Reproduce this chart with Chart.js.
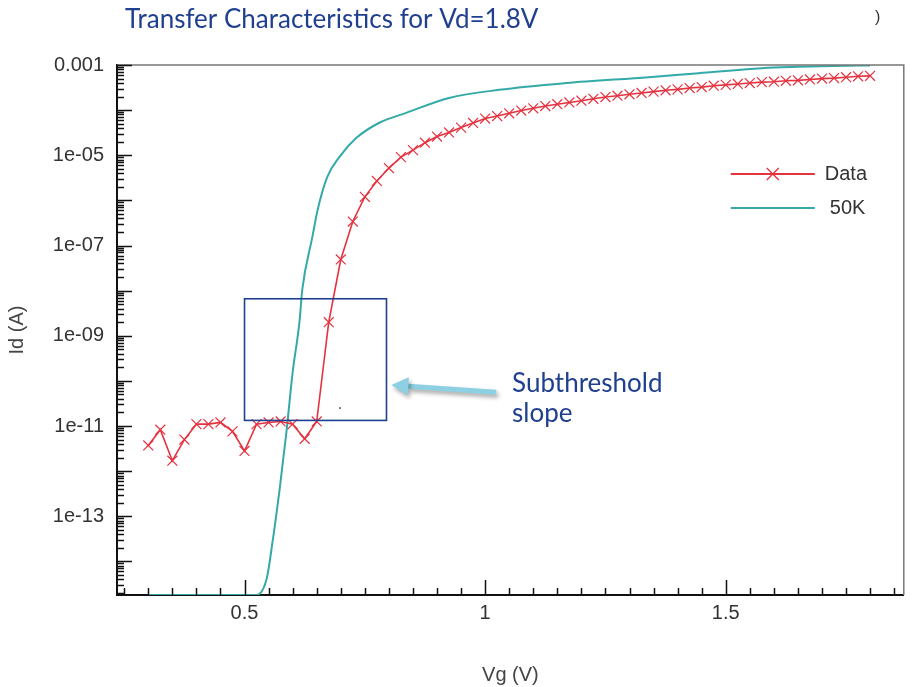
<!DOCTYPE html>
<html>
<head>
<meta charset="utf-8">
<script src="https://cdn.jsdelivr.net/npm/chart.js@4.4.1/dist/chart.umd.min.js"></script>
<style>
  html, body { margin: 0; padding: 0; background: #fff; }
  #wrap { width: 912px; height: 687px; }
</style>
</head>
<body>
<div id="wrap"><canvas id="grafica" width="912" height="687"></canvas></div>
<script>
// Datos medidos (Vg en V, Id en A)
var vgData = [0.3, 0.325, 0.35, 0.375, 0.4, 0.425, 0.45, 0.475, 0.5, 0.525, 0.55, 0.575, 0.6, 0.625, 0.65,
              0.675, 0.7, 0.725, 0.75, 0.775, 0.8, 0.825, 0.85, 0.875, 0.9, 0.925, 0.95, 0.975, 1.0,
              1.025, 1.05, 1.075, 1.1, 1.125, 1.15, 1.175, 1.2, 1.225, 1.25, 1.275, 1.3, 1.325, 1.35, 1.375, 1.4,
              1.425, 1.45, 1.475, 1.5, 1.525, 1.55, 1.575, 1.6, 1.625, 1.65, 1.675, 1.7, 1.725, 1.75, 1.775, 1.8];
var idData = [3.7e-12, 8.3e-12, 1.7e-12, 5.0e-12, 1.1e-11, 1.1e-11, 1.2e-11, 7.6e-12, 2.8e-12, 1.1e-11, 1.2e-11, 1.26e-11, 1.1e-11, 5.2e-12, 1.26e-11,
              2.0e-9, 4.9e-8, 3.4e-7, 1.2e-6, 2.7e-6, 5.2e-6, 9.1e-6, 1.3e-5, 1.9e-5, 2.6e-5, 3.2e-5, 4.1e-5, 5.2e-5, 6.5e-5,
              7.4e-5, 8.5e-5, 9.8e-5, 1.1e-4, 1.23e-4, 1.35e-4, 1.48e-4, 1.62e-4, 1.78e-4, 1.95e-4, 2.09e-4, 2.24e-4, 2.4e-4, 2.57e-4, 2.75e-4, 2.88e-4,
              3.09e-4, 3.24e-4, 3.47e-4, 3.63e-4, 3.8e-4, 3.98e-4, 4.17e-4, 4.27e-4, 4.47e-4, 4.57e-4, 4.79e-4, 5.0e-4, 5.13e-4, 5.37e-4, 5.62e-4, 5.75e-4];

// Simulacion 50K
var vg50k = [0.3, 0.525, 0.546, 0.558, 0.573, 0.587, 0.6, 0.614, 0.62, 0.641, 0.652, 0.672, 0.697, 0.732, 0.78, 0.836,
             0.925, 1.029, 1.168, 1.34, 1.444, 1.575, 1.65, 1.725, 1.8];
var id50k = [1.8e-15, 1.8e-15, 4.1e-15, 2.6e-14, 4.0e-13, 7.2e-12, 1.55e-10, 1.95e-9, 1.05e-8, 1.55e-7, 6.2e-7, 3.3e-6, 9.1e-6, 2.4e-5, 5.25e-5, 8.7e-5,
             1.86e-4, 2.82e-4, 3.98e-4, 5.37e-4, 6.6e-4, 8.5e-4, 9.1e-4, 9.5e-4, 9.8e-4];

// Etiquetas de los ejes
var yTickValues = [1e-3, 1e-5, 1e-7, 1e-9, 1e-11, 1e-13];
var yTickLabels = ["0.001", "1e-05", "1e-07", "1e-09", "1e-11", "1e-13"];
var xTickValues = [0.5, 1, 1.5];
var xTickLabels = ["0.5", "1", "1.5"];

// Recuadro y flecha de la anotacion (coordenadas de datos)
var cajaX = [0.5, 0.795];
var cajaY = [6.6e-9, 1.33e-11];
var flechaDesde = [1.023, 5.6e-11];
var flechaHasta = [0.805, 8.1e-11];
var textoPos = [1.056, 8.9e-11];

var rojo = "#e5323f";
var verdeAzul = "#33aaa8";
var azulOscuro = "#1f3f8f";
var fuenteEjes = '"Liberation Sans", Arial, sans-serif';

function juntar(xs, ys) {
    return xs.map(function (v, i) { return { x: v, y: ys[i] }; });
}

// marcas de los ejes hacia dentro + marco gris arriba/derecha
var marco = {
    id: "marco",
    afterDatasetsDraw: function (chart) {
        var ctx = chart.ctx, a = chart.chartArea;
        var xs = chart.scales.x, ys = chart.scales.y;
        ctx.save();
        ctx.strokeStyle = "#777";
        ctx.lineWidth = 1.5;
        ctx.beginPath();
        ctx.moveTo(a.left, a.top);
        ctx.lineTo(a.right, a.top);
        ctx.lineTo(a.right, a.bottom);
        ctx.stroke();

        ctx.strokeStyle = "#111";
        ctx.lineWidth = 1.5;
        ctx.beginPath();
        ys.ticks.forEach(function (t) {
            var py = Math.round(ys.getPixelForValue(t.value)) + 0.5;
            ctx.moveTo(a.left, py);
            ctx.lineTo(a.left + (t.grande ? 15 : 7), py);
        });
        xs.ticks.forEach(function (t) {
            var px = Math.round(xs.getPixelForValue(t.value)) + 0.5;
            ctx.moveTo(px, a.bottom);
            ctx.lineTo(px, a.bottom - (t.grande ? 15 : 7));
        });
        ctx.stroke();
        ctx.restore();
    }
};

var leyenda = {
    id: "leyenda",
    afterDatasetsDraw: function (chart) {
        var ctx = chart.ctx, a = chart.chartArea;
        ctx.save();
        ctx.font = "20px " + fuenteEjes;
        ctx.textBaseline = "middle";
        chart.data.datasets.forEach(function (ds, i) {
            var y0 = a.top + 109 + i * 34;
            var x0 = a.right - 173;
            ctx.strokeStyle = ds.borderColor;
            ctx.lineWidth = 2;
            ctx.beginPath();
            ctx.moveTo(x0, y0);
            ctx.lineTo(x0 + 84, y0);
            ctx.stroke();
            if (ds.pointStyle === "crossRot") {
                ctx.lineWidth = 1.3;
                ctx.beginPath();
                ctx.moveTo(x0 + 36, y0 - 6); ctx.lineTo(x0 + 48, y0 + 6);
                ctx.moveTo(x0 + 48, y0 - 6); ctx.lineTo(x0 + 36, y0 + 6);
                ctx.stroke();
            }
            ctx.fillStyle = "#333";
            ctx.fillText(ds.label, a.right - 79 + i * 5, y0);
        });
        ctx.restore();
    }
};

var anotacion = {
    id: "anotacion",
    afterDatasetsDraw: function (chart) {
        var ctx = chart.ctx;
        var xs = chart.scales.x, ys = chart.scales.y;
        ctx.save();
        // recuadro
        var x1 = xs.getPixelForValue(cajaX[0]), x2 = xs.getPixelForValue(cajaX[1]);
        var y1 = ys.getPixelForValue(cajaY[0]), y2 = ys.getPixelForValue(cajaY[1]);
        ctx.strokeStyle = azulOscuro;
        ctx.lineWidth = 1.6;
        ctx.strokeRect(x1, y1, x2 - x1, y2 - y1);
        ctx.fillStyle = "#222";
        ctx.fillRect(xs.getPixelForValue(0.697), ys.getPixelForValue(2.6e-11), 1.5, 1.5);

        // flecha
        var tx = xs.getPixelForValue(flechaDesde[0]), ty = ys.getPixelForValue(flechaDesde[1]);
        var hx = xs.getPixelForValue(flechaHasta[0]), hy = ys.getPixelForValue(flechaHasta[1]);
        var ang = Math.atan2(hy - ty, hx - tx);
        var bx = hx - 17 * Math.cos(ang), by = hy - 17 * Math.sin(ang);
        ctx.shadowColor = "rgba(0,0,0,0.35)";
        ctx.shadowBlur = 4;
        ctx.shadowOffsetX = 2;
        ctx.shadowOffsetY = 3;
        ctx.strokeStyle = "#8dcfe3";
        ctx.fillStyle = "#8dcfe3";
        ctx.lineWidth = 5;
        ctx.beginPath();
        ctx.moveTo(tx, ty);
        ctx.lineTo(bx, by);
        ctx.stroke();
        ctx.beginPath();
        ctx.moveTo(hx, hy);
        ctx.lineTo(bx + 9 * Math.sin(ang), by - 9 * Math.cos(ang));
        ctx.lineTo(bx - 9 * Math.sin(ang), by + 9 * Math.cos(ang));
        ctx.closePath();
        ctx.fill();
        ctx.shadowColor = "transparent";

        // texto
        var px = xs.getPixelForValue(textoPos[0]), py = ys.getPixelForValue(textoPos[1]);
        ctx.fillStyle = azulOscuro;
        ctx.font = "26px Lato, 'Open Sans', sans-serif";
        ctx.textBaseline = "middle";
        ctx.fillText("Subthreshold", px, py);
        ctx.fillText("slope", px, py + 30);

        // titulo
        ctx.font = "26px Lato, 'Open Sans', sans-serif";
        ctx.fillText("Transfer Characteristics for Vd=1.8V", 125, 20);
        ctx.fillStyle = "#333";
        ctx.font = "16px " + fuenteEjes;
        ctx.fillText(")", 875, 18);
        ctx.restore();
    }
};

var grafica = new Chart(document.getElementById("grafica"), {
    type: "line",
    data: {
        datasets: [
            {
                label: "Data",
                data: juntar(vgData, idData),
                borderColor: rojo,
                backgroundColor: rojo,
                borderWidth: 1.6,
                pointStyle: "crossRot",
                pointRadius: 7,
                pointBorderWidth: 1.2,
                pointBorderColor: rojo,
                tension: 0,
                fill: false,
            },
            {
                label: "50K",
                data: juntar(vg50k, id50k),
                borderColor: verdeAzul,
                backgroundColor: verdeAzul,
                borderWidth: 2,
                pointRadius: 0,
                cubicInterpolationMode: "monotone",
                fill: false,
            },
        ],
    },
    options: {
        responsive: false,
        animation: false,
        devicePixelRatio: 1,
        layout: { padding: { left: 0, top: 65, right: 7, bottom: 0 } },
        plugins: { legend: { display: false }, tooltip: { enabled: false }, title: { display: false } },
        scales: {
            x: {
                type: "linear",
                min: 0.235,
                max: 1.87,
                grid: { display: false, drawTicks: false, tickLength: 0 },
                border: { display: true, color: "#111", width: 2 },
                afterBuildTicks: function (s) {
                    var t = [];
                    for (var k = 5; k <= 37; k++) {
                        var v = Math.round(k * 5) / 100;
                        t.push({ value: v, grande: xTickValues.indexOf(v) >= 0 });
                    }
                    s.ticks = t;
                },
                afterFit: function (s) { s.height = 92; },
                ticks: {
                    autoSkip: false,
                    maxRotation: 0,
                    padding: 6,
                    color: "#333",
                    font: { family: fuenteEjes, size: 20 },
                    callback: function (v) {
                        var i = xTickValues.indexOf(Math.round(v * 100) / 100);
                        return i >= 0 ? xTickLabels[i] : "";
                    },
                },
                title: {
                    display: true,
                    text: "Vg (V)",
                    color: "#444",
                    font: { family: fuenteEjes, size: 20 },
                    padding: { top: 0, bottom: 0 },
                },
            },
            y: {
                type: "logarithmic",
                min: 1.8e-15,
                max: 1e-3,
                grid: { display: false, drawTicks: false, tickLength: 0 },
                border: { display: true, color: "#111", width: 2 },
                afterBuildTicks: function (s) {
                    var t = [];
                    for (var e = -15; e <= -3; e++) {
                        for (var m = 1; m <= 9; m++) {
                            var v = m * Math.pow(10, e);
                            if (v >= s.min * 0.9999 && v <= s.max * 1.0001) t.push({ value: v, grande: m === 1 });
                        }
                    }
                    s.ticks = t;
                },
                afterFit: function (s) { s.width = 117; },
                ticks: {
                    autoSkip: false,
                    padding: 13,
                    color: "#333",
                    font: { family: fuenteEjes, size: 20 },
                    callback: function (v) {
                        for (var i = 0; i < yTickValues.length; i++) {
                            if (Math.abs(Math.log10(yTickValues[i]) - Math.log10(v)) < 1e-6) return yTickLabels[i];
                        }
                        return "";
                    },
                },
                title: {
                    display: true,
                    text: "Id (A)",
                    color: "#444",
                    font: { family: fuenteEjes, size: 20 },
                    padding: { top: 5, bottom: 0 },
                },
            },
        },
    },
    plugins: [marco, anotacion, leyenda],
});
</script>
</body>
</html>
